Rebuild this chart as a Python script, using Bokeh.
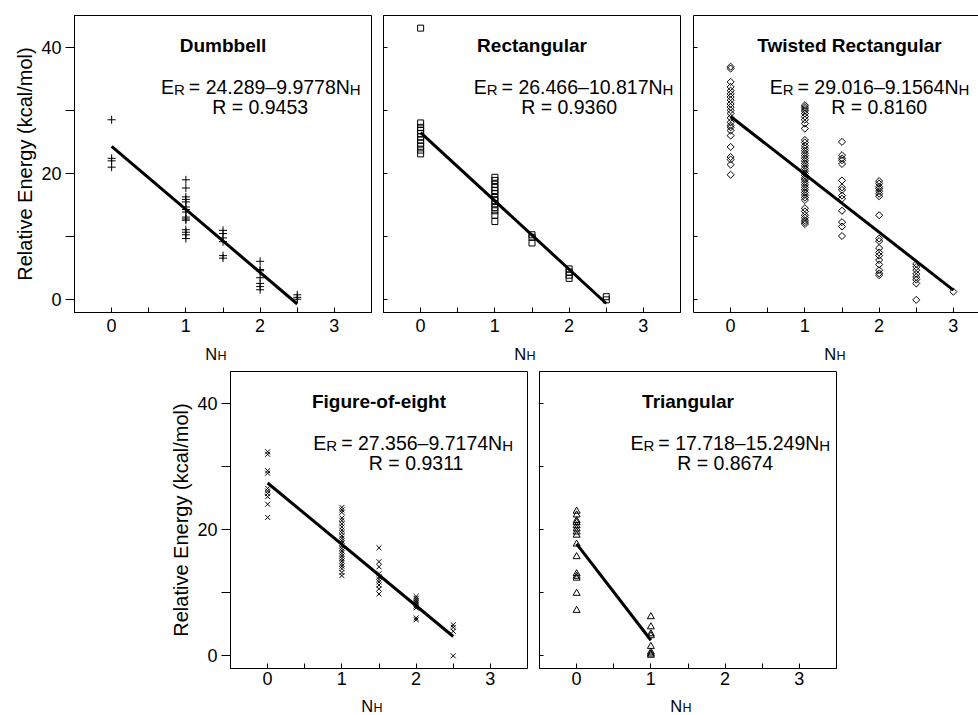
import math
from bokeh.plotting import figure
from bokeh.models import FixedTicker, Label, Spacer, LinearAxis, Range1d
from bokeh.layouts import row, column
from bokeh.embed import file_html
from bokeh.resources import INLINE

# ---------------- data ----------------
titles = ["Dumbbell", "Rectangular", "Twisted Rectangular", "Figure-of-eight", "Triangular"]
intercepts = [24.289, 26.466, 29.016, 27.356, 17.718]
slopes = [-9.9778, -10.817, -9.1564, -9.7174, -15.249]
r_values = ["0.9453", "0.9360", "0.8160", "0.9311", "0.8674"]

x_ticks = [0, 1, 2, 3]
x_minor = [0.5, 1.5, 2.5]
y_ticks = [0, 20, 40]
y_minor = [10, 30]

dumbbell = {
    0: [28.5, 22.4, 22.0, 21.0],
    1: [19.0, 17.7, 16.3, 15.9, 15.5, 14.7, 14.3, 13.9, 13.1, 12.8, 12.6, 11.1, 10.7, 10.3, 9.7],
    1.5: [11.0, 10.5, 9.8, 9.2, 7.0, 6.6],
    2: [6.1, 4.8, 4.6, 3.5, 2.6, 2.1, 1.6],
    2.5: [0.8, 0.4, 0.1],
}
rectangular = {
    0: [43.0, 28.0, 27.3, 26.8, 26.3, 25.8, 25.3, 24.8, 24.3, 23.7, 23.1],
    1: [19.4, 18.9, 18.3, 17.8, 17.3, 16.8, 16.2, 15.7, 15.2, 14.6, 14.1, 13.4, 12.4],
    1.5: [10.3, 9.9, 9.0],
    2: [4.9, 4.4, 3.9, 3.4],
    2.5: [0.5, 0.0],
}
twisted = {
    0: [36.9, 36.6, 34.5, 33.7, 33.1, 32.6, 32.1, 31.6, 31.0, 30.5, 30.0, 29.5, 28.8,
        28.1, 27.6, 27.3, 26.8, 26.0, 24.2, 22.6, 22.2, 21.4, 19.8],
    1: [30.8, 30.5, 30.2, 29.9, 29.5, 29.0, 28.5, 27.9, 27.1, 25.3, 24.9, 24.4, 24.0,
        23.6, 23.2, 22.8, 22.4, 22.0, 21.6, 21.2, 20.8, 20.4, 20.0, 19.7, 19.3, 19.0,
        18.6, 18.2, 17.8, 17.4, 17.0, 16.6, 16.2, 15.8, 14.5, 14.0, 13.4, 13.0, 12.6,
        12.3, 12.0],
    1.5: [25.0, 22.9, 22.4, 22.1, 21.5, 18.9, 17.8, 17.4, 16.5, 16.0, 14.1, 12.3, 11.6, 10.1],
    2: [18.8, 18.4, 17.9, 17.6, 17.2, 16.8, 16.4, 13.4, 9.7, 9.3, 8.2, 7.5, 7.0, 6.3,
        5.6, 4.7, 4.2, 3.9],
    2.5: [5.7, 5.2, 4.7, 4.1, 3.6, 3.2, 2.6, 0.0],
    3: [1.3],
}
figure_of_eight = {
    0: [32.3, 31.9, 29.3, 28.9, 26.5, 26.1, 25.7, 25.2, 24.0, 21.9],
    1: [23.5, 23.1, 22.7, 21.8, 21.4, 20.9, 20.4, 19.9, 19.5, 19.0, 18.6, 18.2, 17.8,
        17.4, 17.0, 16.6, 16.2, 15.8, 15.4, 15.0, 14.6, 14.2, 13.8, 13.2, 12.7],
    1.5: [17.1, 14.9, 14.1, 13.0, 12.5, 12.1, 11.7, 11.2, 10.6, 9.8],
    2: [9.4, 9.1, 8.8, 8.5, 8.2, 7.9, 7.6, 6.0, 5.7],
    2.5: [4.9, 4.5, 3.9, 0.0],
}
triangular = {
    0: [22.9, 22.3, 21.4, 21.1, 20.6, 20.1, 19.6, 19.1, 17.7, 15.7, 13.0, 12.6, 12.3, 9.9, 7.2],
    1: [6.2, 4.6, 3.5, 3.2, 1.5, 0.6, 0.3, 0.1],
}
datasets = [dumbbell, rectangular, twisted, figure_of_eight, triangular]

# ---------------- styling / layout ----------------
FONT = "Liberation Sans"
markers = ["cross", "square", "square", "x", "triangle"]
marker_sizes = [8, 6, 5, 7, 7]
marker_angles = [0, 0, math.pi / 4, 0, 0]
title_x = [1.5, 1.5, 1.6, 1.5, 1.5]
eq_center = [2.01, 2.06, 1.87, 1.96, 2.07]

PX_PER_UNIT = 297 / 4.0
ADV = {str(d): 0.556 for d in range(10)}
ADV.update({".": 0.278, " ": 0.278, "=": 0.584, "\u2013": 0.556, "E": 0.667,
            "R": 0.722, "N": 0.722, "H": 0.722})


def text_w(s, size):
    return sum(ADV.get(c, 0.556) for c in s) * size


def lab(p, x, y, text, size, xo=0, yo=0, align="left", bold=False):
    p.add_layout(Label(x=x, y=y, x_offset=xo, y_offset=yo, text=text,
                       text_font=FONT, text_font_size=f"{size}px",
                       text_font_style="bold" if bold else "normal",
                       text_color="black", text_align=align,
                       text_baseline="alphabetic"))


def make_panel(i, width, height, mbl, mbr, mbt, mbb, frame_w, show_ylab, x_standoff):
    x_end = -0.5 + frame_w / PX_PER_UNIT
    p = figure(width=width, height=height, x_range=(-0.5, x_end), y_range=(-2, 45),
               output_backend="svg", toolbar_location=None, title=None,
               min_border_left=mbl, min_border_right=mbr,
               min_border_top=mbt, min_border_bottom=mbb)
    p.grid.visible = False
    p.background_fill_color = "white"
    p.border_fill_color = "white"
    p.outline_line_color = "black"
    p.outline_line_width = 1

    xa = p.xaxis[0]
    xa.ticker = FixedTicker(ticks=x_ticks, minor_ticks=x_minor)
    xa.major_tick_in = 5
    xa.major_tick_out = 0
    xa.minor_tick_in = 5
    xa.minor_tick_out = 0
    xa.major_label_standoff = x_standoff
    xa.major_label_text_font = FONT
    xa.major_label_text_font_size = "18px"
    xa.major_label_text_color = "black"
    xa.axis_line_color = "black"
    xa.major_tick_line_color = "black"
    xa.minor_tick_line_color = "black"

    ya = p.yaxis[0]
    ya.axis_line_color = "black"
    ya.major_tick_line_color = "black"
    ya.minor_tick_line_color = "black"
    if show_ylab:
        ya.ticker = FixedTicker(ticks=y_ticks, minor_ticks=y_minor)
        ya.major_tick_in = 0
        ya.major_tick_out = 9
        ya.minor_tick_in = 0
        ya.minor_tick_out = 9
        ya.major_label_standoff = 4
        ya.major_label_text_font = FONT
        ya.major_label_text_font_size = "18px"
        ya.major_label_text_color = "black"
        ya.axis_label = "Relative Energy (kcal/mol)"
        ya.axis_label_text_font = FONT
        ya.axis_label_text_font_size = "20px"
        ya.axis_label_text_font_style = "normal"
        ya.axis_label_text_color = "black"
        ya.axis_label_standoff = 2
    else:
        # unlabeled side: every tick drawn as a minor tick (no labels)
        ya.ticker = FixedTicker(ticks=[], minor_ticks=sorted(y_ticks + y_minor))
        ya.major_tick_in = 0
        ya.major_tick_out = 0
        ya.minor_tick_in = 4
        ya.minor_tick_out = 0
        ya.major_label_standoff = 0

    data = datasets[i]
    xs, ys = [], []
    for nh, vals in data.items():
        xs += [nh] * len(vals)
        ys += vals
    p.scatter(xs, ys, marker=markers[i], size=marker_sizes[i], angle=marker_angles[i],
              fill_color=None, line_color="black", line_width=1)

    x0, x1 = min(xs), max(xs)
    a, b = intercepts[i], slopes[i]
    p.line([x0, x1], [a + b * x0, a + b * x1], line_color="black", line_width=3)

    # title
    lab(p, title_x[i], 40.3, titles[i], 19, align="center", bold=True)
    # equation  E_R = a–bN_H
    main = f"= {a:.3f}\u2013{abs(b)}N"
    fs, ss = 19.5, 15
    gap_after_r = 4
    pieces = [("E", fs, 0), ("R", ss, -3), (main, fs, 0), ("H", ss, -3)]
    total = sum(text_w(t, s) for t, s, _ in pieces) + gap_after_r
    off = -total / 2
    for t, s, dy in pieces:
        lab(p, eq_center[i], 33.7, t, s, xo=off, yo=dy)
        off += text_w(t, s) + (gap_after_r if t == "R" else 0)
    lab(p, 2.0, 30.5, f"R = {r_values[i]}", 19.5, align="center")
    return p


def nh_strip(width, height, frame_lefts, n_base, sub_drop):
    """Strip below a row of panels holding the N_H axis titles (pixel coordinates)."""
    s = figure(width=width, height=height, x_range=Range1d(0, width),
               y_range=Range1d(height, 0), output_backend="svg", toolbar_location=None,
               title=None, x_axis_type=None, y_axis_type=None,
               min_border_left=0, min_border_right=0, min_border_top=0, min_border_bottom=0)
    s.grid.visible = False
    s.outline_line_color = None
    s.background_fill_color = "white"
    s.border_fill_color = "white"
    for fl in frame_lefts:
        xn = fl + 1.92 * PX_PER_UNIT
        lab(s, xn, n_base, "N", 16.5, align="right")
        lab(s, xn + 0.5, n_base + sub_drop, "H", 12.5, align="left")
    return s


# row 1 : frames at x = 74, 383, 693 ; y = 15 .. 312
p1 = make_panel(0, 377, 338, 74, 6, 15, 26, 297, True, 6)
p2 = make_panel(1, 310, 338, 6, 7, 15, 26, 297, False, 6)
p3 = make_panel(2, 291, 338, 6, 0, 15, 26, 285, False, 6)
# the Twisted panel runs past the page edge: no right border
p3.outline_line_color = None
top_axis = LinearAxis(ticker=FixedTicker(ticks=[], minor_ticks=[]),
                      major_tick_in=0, major_tick_out=0, minor_tick_in=0, minor_tick_out=0,
                      major_label_standoff=0, axis_line_color="black")
p3.add_layout(top_axis, "above")
s1 = nh_strip(978, 25, [74, 383, 693], 15, 2.5)

# row 2 : frames at x = 230, 539 ; y = 371 .. 668
p4 = make_panel(3, 377, 329, 74, 6, 8, 24, 297, True, 3)
p5 = make_panel(4, 309, 329, 6, 6, 8, 24, 297, False, 3)
s2 = nh_strip(978, 23, [230, 539], 13.5, 2)

layout = column(row(p1, p2, p3), s1,
                row(Spacer(width=156, height=329), p4, p5), s2)

with open("out.html", "w") as f:
    f.write(file_html(layout, INLINE, "Relative energy vs N_H"))
